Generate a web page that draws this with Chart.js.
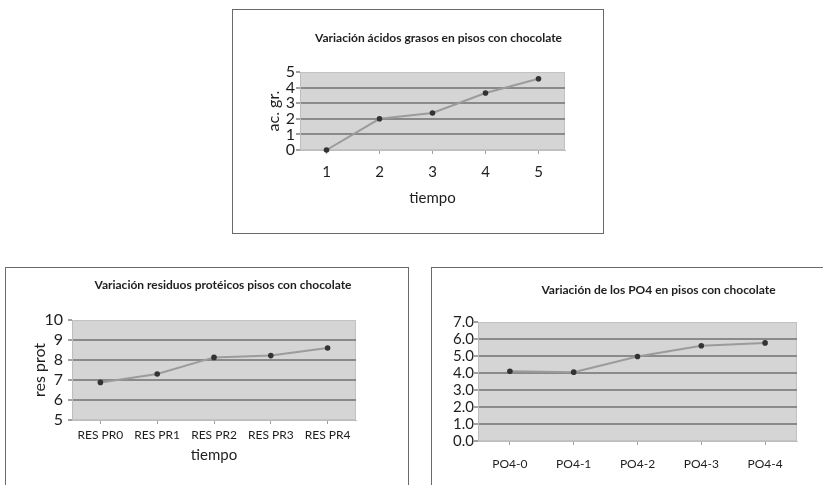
<!DOCTYPE html>
<html>
<head>
<meta charset="utf-8">
<script src="https://cdn.jsdelivr.net/npm/chart.js@4/dist/chart.umd.min.js"></script>
<style>
  body { margin: 0; background: #fff; width: 823px; height: 485px; overflow: hidden; position: relative; }
  .box { position: absolute; border: 1px solid #6a6a6a; }
  canvas { position: absolute; }
</style>
</head>
<body>
<div class="box" style="left:232px;top:9px;width:370px;height:223px"></div>
<div class="box" style="left:5px;top:267px;width:402px;height:240px"></div>
<div class="box" style="left:431px;top:267px;width:420px;height:240px"></div>
<canvas id="c1" width="369" height="222" style="left:233px;top:10px"></canvas>
<canvas id="c2" width="400" height="217" style="left:6px;top:268px"></canvas>
<canvas id="c3" width="391" height="217" style="left:432px;top:268px"></canvas>
<script>
// data
const fatLabels = ['1', '2', '3', '4', '5'];
const fatValues = [0, 2.0, 2.37, 3.65, 4.57];

const protLabels = ['RES PR0', 'RES PR1', 'RES PR2', 'RES PR3', 'RES PR4'];
const protValues = [6.88, 7.3, 8.13, 8.22, 8.6];

const po4Labels = ['PO4-0', 'PO4-1', 'PO4-2', 'PO4-3', 'PO4-4'];
const po4Values = [4.1, 4.05, 4.97, 5.6, 5.77];

const FONT = 'Lato';
const INK = '#1e1e1e';

// grey plot area like the old spreadsheet charts
const plotBg = {
  id: 'plotBg',
  beforeDraw(chart) {
    const a = chart.chartArea, ctx = chart.ctx;
    ctx.save();
    ctx.fillStyle = '#d5d5d5';
    ctx.fillRect(a.left, a.top, a.right - a.left, a.bottom - a.top);
    ctx.strokeStyle = '#c2c2c2';
    ctx.lineWidth = 1;
    ctx.strokeRect(a.left + 0.5, a.top + 0.5, a.right - a.left - 1, a.bottom - a.top - 1);
    ctx.restore();
  }
};

// chart title placed over the plot area
const boxTitle = {
  id: 'boxTitle',
  afterDraw(chart, args, opts) {
    const a = chart.chartArea, ctx = chart.ctx;
    ctx.save();
    ctx.font = 'bold 12px ' + FONT;
    ctx.fillStyle = INK;
    ctx.textAlign = 'center';
    ctx.textBaseline = 'middle';
    ctx.fillText(opts.text, (a.left + a.right) / 2 + opts.dx, opts.y);
    ctx.restore();
  }
};

function isEdge(c) {
  return c.index === 0 || c.index === c.scale.ticks.length - 1;
}

function makeChart(id, labels, values, o) {
  return new Chart(document.getElementById(id), {
    type: 'line',
    data: {
      labels: labels,
      datasets: [{
        data: values,
        borderColor: '#9b9b9b',
        borderWidth: 2,
        pointRadius: 2.8,
        pointBackgroundColor: '#333',
        pointBorderWidth: 0,
        tension: 0,
        clip: false
      }]
    },
    options: {
      responsive: false,
      animation: false,
      devicePixelRatio: 1,
      layout: { padding: { left: 0, top: o.top, right: o.right, bottom: 0 } },
      plugins: {
        legend: { display: false },
        tooltip: { enabled: false },
        title: { display: false },
        boxTitle: { text: o.title, dx: o.titleDx, y: o.titleY }
      },
      scales: {
        x: {
          offset: true,
          afterFit: s => { s.height = o.xHeight; },
          grid: { drawOnChartArea: false, tickLength: 4, tickColor: '#a0a0a0' },
          border: { color: '#bdbdbd', width: 1 },
          ticks: { color: INK, padding: o.xPad, font: { family: FONT, size: o.xSize }, maxRotation: 0, autoSkip: false },
          title: {
            display: !!o.xTitle, text: o.xTitle, color: INK,
            font: { family: FONT, size: 15 }, padding: { top: 0, bottom: o.xTitlePad }
          }
        },
        y: {
          min: o.min, max: o.max,
          afterFit: s => { s.width = o.yWidth; },
          grid: {
            color: c => isEdge(c) ? 'rgba(0,0,0,0)' : '#8a8a8a',
            lineWidth: 2,
            tickLength: 4,
            tickColor: '#a0a0a0'
          },
          border: { color: '#bdbdbd', width: 1 },
          ticks: {
            stepSize: 1, autoSkip: false, color: INK, padding: o.yPad,
            font: { family: FONT, size: o.ySize },
            callback: v => o.decimals ? v.toFixed(1) : String(v)
          },
          title: {
            display: !!o.yTitle, text: o.yTitle, color: INK,
            font: { family: FONT, size: o.yTitleSize }, padding: { top: o.yTitlePad, bottom: 0 }
          }
        }
      }
    },
    plugins: [plotBg, boxTitle]
  });
}

makeChart('c1', fatLabels, fatValues, {
  title: 'Variación ácidos grasos en pisos con chocolate', titleDx: 6, titleY: 28,
  top: 62, right: 37, xHeight: 82, yWidth: 67,
  min: 0, max: 5, xSize: 15, xPad: 9, ySize: 16, yPad: 1,
  xTitle: 'tiempo', xTitlePad: 25,
  yTitle: 'ac. gr.', yTitleSize: 16, yTitlePad: 31
});

makeChart('c2', protLabels, protValues, {
  title: 'Variación residuos protéicos pisos con chocolate', titleDx: 9, titleY: 17,
  top: 52, right: 50, xHeight: 65, yWidth: 66,
  min: 5, max: 10, xSize: 12, xPad: 4, ySize: 16, yPad: 5,
  xTitle: 'tiempo', xTitlePad: 21,
  yTitle: 'res prot', yTitleSize: 16, yTitlePad: 24
});

makeChart('c3', po4Labels, po4Values, {
  title: 'Variación de los PO4 en pisos con chocolate', titleDx: 21, titleY: 22,
  top: 54, right: 26, xHeight: 44, yWidth: 46,
  min: 0, max: 7, xSize: 12, xPad: 12, ySize: 15, yPad: 0, decimals: true
});
</script>
</body>
</html>
